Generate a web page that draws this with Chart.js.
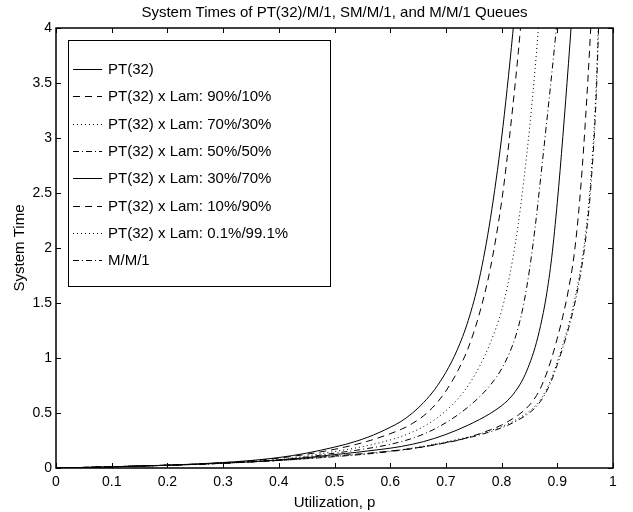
<!DOCTYPE html>
<html>
<head>
<meta charset="utf-8">
<script src="https://cdn.jsdelivr.net/npm/chart.js@4.4.1/dist/chart.umd.min.js"></script>
<style>
  html, body { margin: 0; padding: 0; background: #fff; }
</style>
</head>
<body>
<canvas id="myChart" width="633" height="512"></canvas>
<script>
// utilization values shared by all curves
var utilization = [0, 0.05, 0.1, 0.15, 0.2, 0.25, 0.3, 0.35, 0.4, 0.45,
  0.5, 0.52, 0.54, 0.56, 0.58, 0.6, 0.62, 0.64, 0.66, 0.68,
  0.70, 0.72, 0.74, 0.76, 0.78, 0.80, 0.81, 0.82, 0.83, 0.84,
  0.85, 0.86, 0.87, 0.88, 0.89, 0.90, 0.91, 0.92, 0.93, 0.94,
  0.95, 0.96, 0.97, 0.98];

// system times (each curve stops once it is past the top)
var pt32 = [0, 0.005, 0.011, 0.018, 0.026, 0.036, 0.05, 0.068, 0.095, 0.135,
  0.19, 0.215, 0.245, 0.28, 0.322, 0.37, 0.425, 0.5, 0.595, 0.715,
  0.87, 1.07, 1.34, 1.72, 2.27, 3.0, 3.45, 3.95, 4.5];
var lam90 = [0, 0.005, 0.011, 0.017, 0.025, 0.035, 0.048, 0.066, 0.09, 0.125,
  0.17, 0.192, 0.216, 0.244, 0.276, 0.312, 0.352, 0.405, 0.475, 0.57,
  0.7, 0.87, 1.09, 1.4, 1.82, 2.42, 2.82, 3.28, 3.78, 4.35];
var lam70 = [0, 0.005, 0.011, 0.018, 0.025, 0.034, 0.046, 0.06, 0.078, 0.11,
  0.15, 0.166, 0.184, 0.205, 0.228, 0.255, 0.287, 0.327, 0.377, 0.44,
  0.52, 0.62, 0.75, 0.92, 1.14, 1.43, 1.64, 1.9, 2.22, 2.62,
  3.08, 3.62, 4.25];
var lam50 = [0, 0.005, 0.011, 0.018, 0.025, 0.034, 0.045, 0.058, 0.075, 0.1,
  0.135, 0.148, 0.162, 0.178, 0.195, 0.215, 0.24, 0.27, 0.308, 0.355,
  0.412, 0.478, 0.555, 0.645, 0.755, 0.9, 1.0, 1.12, 1.28, 1.5,
  1.8, 2.18, 2.63, 3.1, 3.58, 4.08];
var lam30 = [0, 0.005, 0.011, 0.018, 0.025, 0.033, 0.044, 0.056, 0.072, 0.094,
  0.122, 0.132, 0.143, 0.155, 0.167, 0.18, 0.196, 0.216, 0.24, 0.27,
  0.305, 0.345, 0.39, 0.44, 0.497, 0.566, 0.61, 0.665, 0.735, 0.825,
  0.945, 1.095, 1.295, 1.555, 1.915, 2.415, 3.015, 3.675, 4.375];
var lam10 = [0, 0.005, 0.011, 0.018, 0.025, 0.033, 0.043, 0.055, 0.069, 0.088,
  0.11, 0.118, 0.126, 0.134, 0.144, 0.154, 0.165, 0.178, 0.193, 0.21,
  0.229, 0.25, 0.278, 0.31, 0.348, 0.39, 0.418, 0.448, 0.482, 0.522,
  0.572, 0.637, 0.727, 0.85, 1.0, 1.18, 1.38, 1.62, 1.93, 2.42,
  3.12, 4.0, 5.1];
var lam01 = [0, 0.005, 0.011, 0.018, 0.025, 0.034, 0.044, 0.056, 0.07, 0.087,
  0.106, 0.114, 0.122, 0.131, 0.142, 0.154, 0.166, 0.181, 0.198, 0.218,
  0.238, 0.259, 0.282, 0.309, 0.34, 0.376, 0.398, 0.422, 0.45, 0.481,
  0.517, 0.563, 0.625, 0.71, 0.822, 0.965, 1.123, 1.298, 1.503, 1.76,
  2.1, 2.62, 3.5, 5.1];
var mm1 = [0, 0.005, 0.011, 0.018, 0.025, 0.033, 0.043, 0.055, 0.068, 0.085,
  0.103, 0.111, 0.119, 0.128, 0.138, 0.15, 0.162, 0.176, 0.193, 0.212,
  0.232, 0.252, 0.274, 0.3, 0.33, 0.365, 0.386, 0.41, 0.437, 0.467,
  0.502, 0.547, 0.607, 0.69, 0.8, 0.94, 1.095, 1.265, 1.465, 1.715,
  2.045, 2.545, 3.4, 5.0];

var seriesNames = ["PT(32)", "PT(32) x Lam: 90%/10%", "PT(32) x Lam: 70%/30%",
  "PT(32) x Lam: 50%/50%", "PT(32) x Lam: 30%/70%", "PT(32) x Lam: 10%/90%",
  "PT(32) x Lam: 0.1%/99.1%", "M/M/1"];
var seriesValues = [pt32, lam90, lam70, lam50, lam30, lam10, lam01, mm1];

var xTicks = [0, 0.1, 0.2, 0.3, 0.4, 0.5, 0.6, 0.7, 0.8, 0.9, 1];
var yTicks = [0, 0.5, 1, 1.5, 2, 2.5, 3, 3.5, 4];

var chartTitle = 'System Times of PT(32)/M/1, SM/M/1, and M/M/1 Queues';

// matlab line styles: solid, dashed, dotted, dash-dot
var SOLID = [], DASHED = [7, 5], DOTTED = [1, 3], DASHDOT = [6, 3, 1, 3];
var styles = [SOLID, DASHED, DOTTED, DASHDOT, SOLID, DASHED, DOTTED, DASHDOT];

var FONT = "'Liberation Sans', Arial, Helvetica, sans-serif";
Chart.defaults.font.family = FONT;
Chart.defaults.color = '#000';

var datasets = seriesValues.map(function (vals, i) {
  return {
    label: seriesNames[i],
    data: vals.map(function (v, j) { return { x: utilization[j], y: v }; }),
    borderColor: '#000',
    borderWidth: 1,
    borderDash: styles[i],
    pointRadius: 0,
    fill: false,
    cubicInterpolationMode: 'monotone'
  };
});

function fmt(v) { return String(Number(v.toFixed(2))); }

// box round the plot + ticks pointing inwards on all four sides, title over the axes
var boxTicks = {
  id: 'boxTicks',
  afterDraw: function (chart) {
    var ctx = chart.ctx, a = chart.chartArea;
    var xs = chart.scales.x, ys = chart.scales.y;
    ctx.save();
    ctx.strokeStyle = '#000';
    ctx.lineWidth = 1;
    ctx.beginPath();
    xs.ticks.forEach(function (t) {
      var px = Math.round(xs.getPixelForValue(t.value)) + 0.5;
      ctx.moveTo(px, a.bottom); ctx.lineTo(px, a.bottom - 5);
      ctx.moveTo(px, a.top); ctx.lineTo(px, a.top + 5);
    });
    ys.ticks.forEach(function (t) {
      var py = Math.round(ys.getPixelForValue(t.value)) + 0.5;
      ctx.moveTo(a.left, py); ctx.lineTo(a.left + 5, py);
      ctx.moveTo(a.right, py); ctx.lineTo(a.right - 5, py);
    });
    ctx.stroke();
    ctx.lineWidth = 1.5;
    ctx.strokeRect(a.left, a.top, a.right - a.left, a.bottom - a.top);

    ctx.font = '15px ' + FONT;
    ctx.fillStyle = '#000';
    ctx.textAlign = 'center';
    ctx.textBaseline = 'middle';
    ctx.fillText(chartTitle, (a.left + a.right) / 2, 13);
    ctx.restore();
  }
};

// legend box inside the axes, top left
var boxLegend = {
  id: 'boxLegend',
  afterDatasetsDraw: function (chart) {
    var ctx = chart.ctx;
    var bx = 68.5, by = 40.5, bw = 262, bh = 246;
    ctx.save();
    ctx.fillStyle = '#fff';
    ctx.fillRect(bx, by, bw, bh);
    ctx.strokeStyle = '#000';
    ctx.lineWidth = 1;
    ctx.strokeRect(bx, by, bw, bh);
    ctx.font = '15px ' + FONT;
    ctx.textBaseline = 'middle';
    ctx.fillStyle = '#000';
    chart.data.datasets.forEach(function (ds, i) {
      var ry = Math.round(69 + i * 27.3) + 0.5;
      ctx.setLineDash(ds.borderDash);
      ctx.beginPath();
      ctx.moveTo(73, ry);
      ctx.lineTo(102, ry);
      ctx.stroke();
      ctx.setLineDash([]);
      ctx.fillText(ds.label, 108, ry);
    });
    ctx.restore();
  }
};

var ctx = document.getElementById('myChart');
var myChart = new Chart(ctx, {
  type: 'line',
  data: { datasets: datasets },
  options: {
    responsive: false,
    animation: false,
    layout: { padding: { left: 0, right: 20, top: 28, bottom: 0 } },
    plugins: {
      legend: { display: false },
      tooltip: { enabled: false },
      title: { display: false }
    },
    scales: {
      x: {
        type: 'linear',
        min: 0,
        max: 1,
        afterBuildTicks: function (s) { s.ticks = xTicks.map(function (v) { return { value: v }; }); },
        afterFit: function (s) { s.height = 44; },
        ticks: { callback: fmt, font: { size: 14 }, padding: 6, maxRotation: 0, autoSkip: false },
        grid: { display: false, drawTicks: false },
        border: { display: false },
        title: { display: true, text: 'Utilization, p', font: { size: 15 }, padding: { top: 7, bottom: 0 } }
      },
      y: {
        type: 'linear',
        min: 0,
        max: 4,
        afterBuildTicks: function (s) { s.ticks = yTicks.map(function (v) { return { value: v }; }); },
        afterFit: function (s) { s.width = 56; },
        ticks: { callback: fmt, font: { size: 14 }, padding: 4, autoSkip: false },
        grid: { display: false, drawTicks: false },
        border: { display: false },
        title: { display: true, text: 'System Time', font: { size: 15 }, padding: { top: 11, bottom: 0 } }
      }
    }
  },
  plugins: [boxTicks, boxLegend]
});
</script>
</body>
</html>
